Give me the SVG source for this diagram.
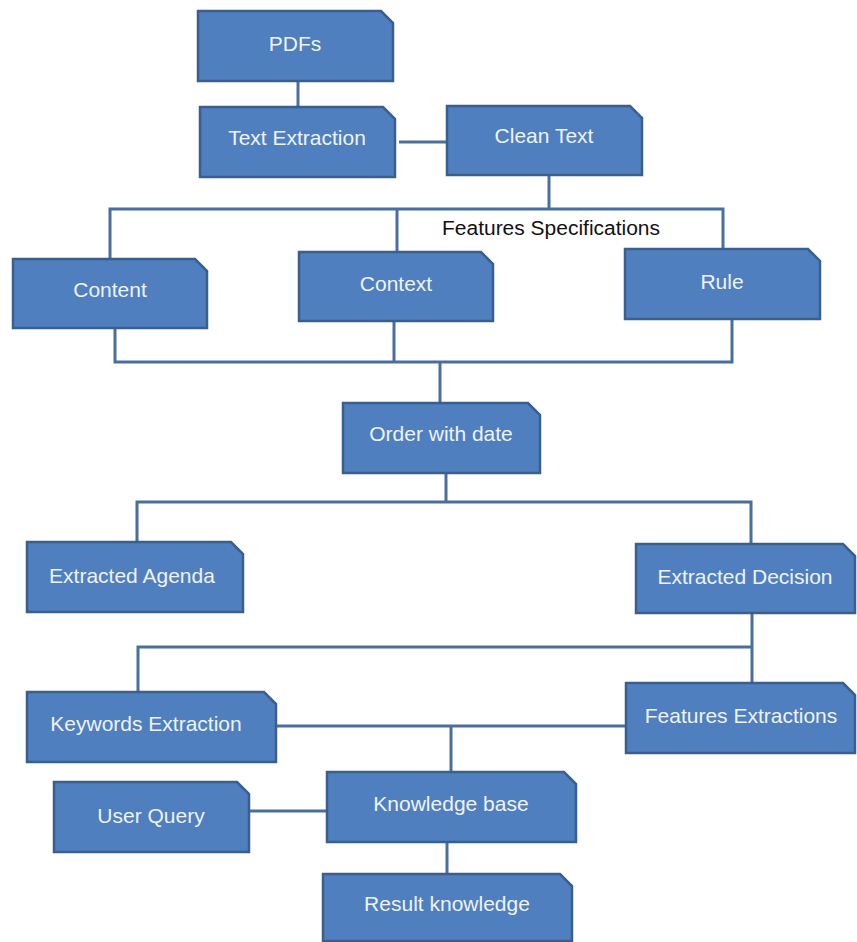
<svg xmlns="http://www.w3.org/2000/svg" width="857" height="942" viewBox="0 0 857 942">
<style>
.box{fill:#4F7FBE;stroke:#3A5F8E;stroke-width:2.5}
.lbl{font-family:"Liberation Sans",Arial,sans-serif;font-size:21px;fill:#EEF3FA;text-anchor:middle}
.conn{fill:none;stroke:#4A6F9E;stroke-width:3}
.note{font-family:"Liberation Sans",Arial,sans-serif;font-size:20px;fill:#111}
</style>
<rect width="857" height="942" fill="#fff"/>
<g id="connectors">
<path class="conn" d="M298 81V107"/>
<path class="conn" d="M399 142H447"/>
<path class="conn" d="M549 175V209"/>
<path class="conn" d="M110 258V209H723V249"/>
<path class="conn" d="M397 209V252"/>
<path class="conn" d="M115 328V362H732V319"/>
<path class="conn" d="M394 321V362"/>
<path class="conn" d="M440 362V403"/>
<path class="conn" d="M446 473V502"/>
<path class="conn" d="M137 542V502H751V544"/>
<path class="conn" d="M752 613V683"/>
<path class="conn" d="M138 692V647H752"/>
<path class="conn" d="M276 726H626"/>
<path class="conn" d="M451 726V772"/>
<path class="conn" d="M249 811H327"/>
<path class="conn" d="M447 842V874"/>
</g>
<text class="note" x="442" y="235" textLength="218" lengthAdjust="spacingAndGlyphs">Features Specifications</text>
<g id="pdfs"><path class="box" d="M198 11H381L393 23V81H198Z"/><text class="lbl" x="295" y="51">PDFs</text></g>
<g id="text-extraction"><path class="box" d="M200 107H383L395 119V177H200Z"/><text class="lbl" x="297" y="145">Text Extraction</text></g>
<g id="clean-text"><path class="box" d="M447 106H630L642 118V175H447Z"/><text class="lbl" x="544" y="143">Clean Text</text></g>
<g id="content"><path class="box" d="M13 259H195L207 271V328H13Z"/><text class="lbl" x="110" y="297">Content</text></g>
<g id="context"><path class="box" d="M299 252H481L493 264V321H299Z"/><text class="lbl" x="396" y="291">Context</text></g>
<g id="rule"><path class="box" d="M625 249H808L820 261V319H625Z"/><text class="lbl" x="722" y="289">Rule</text></g>
<g id="order-with-date"><path class="box" d="M343 403H528L540 415V473H343Z"/><text class="lbl" x="441" y="441">Order with date</text></g>
<g id="extracted-agenda"><path class="box" d="M27 542H231L243 554V612H27Z"/><text class="lbl" x="132" y="583">Extracted Agenda</text></g>
<g id="extracted-decision"><path class="box" d="M636 544H843L855 556V613H636Z"/><text class="lbl" x="745" y="584">Extracted Decision</text></g>
<g id="keywords-extraction"><path class="box" d="M27 692H264L276 704V762H27Z"/><text class="lbl" x="146" y="731">Keywords Extraction</text></g>
<g id="features-extractions"><path class="box" d="M626 683H843L855 695V753H626Z"/><text class="lbl" x="741" y="723">Features Extractions</text></g>
<g id="user-query"><path class="box" d="M54 782H237L249 794V852H54Z"/><text class="lbl" x="151" y="823">User Query</text></g>
<g id="knowledge-base"><path class="box" d="M327 772H564L576 784V842H327Z"/><text class="lbl" x="451" y="811">Knowledge base</text></g>
<g id="result-knowledge"><path class="box" d="M323 874H560L572 886V941H323Z"/><text class="lbl" x="447" y="911">Result knowledge</text></g>
</svg>
